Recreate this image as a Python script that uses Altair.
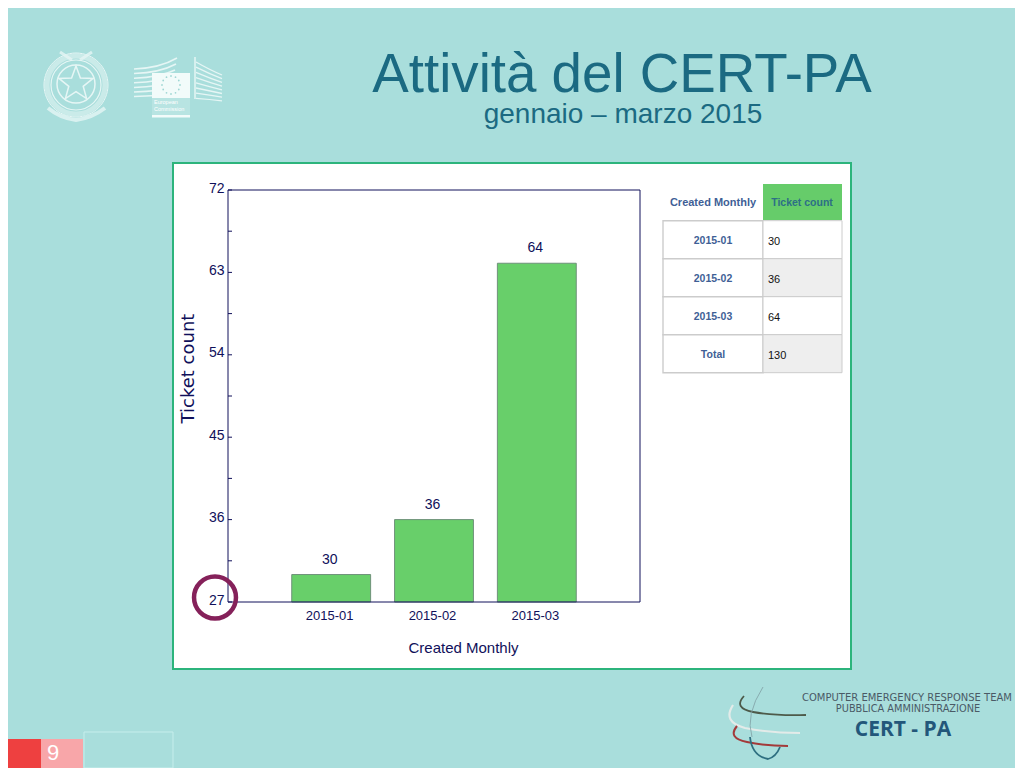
import math
import altair as alt

months = ["2015-01", "2015-02", "2015-03"]
counts = [30, 36, 64]
major_ticks = [27, 36, 45, 54, 63, 72]
all_ticks = [27, 31.5, 36, 40.5, 45, 49.5, 54, 58.5, 63, 67.5, 72]
table_rows = ["2015-01", "2015-02", "2015-03", "Total"]
table_values = ["30", "36", "64", "130"]
table_headers = ["Created Monthly", "Ticket count"]

OX, OY = 228, 190      # page position of the plot's top-left corner
BG = "#a9dedc"
NAVY = "#10105a"
SANS = "Liberation Sans"
ONE = {"values": [{}]}


def px(v):
    return alt.value(v - OX)


def py(v):
    return alt.value(v - OY)


def label(text, x, y, size, color, font=SANS, weight="normal", align="center", baseline="alphabetic", opacity=1):
    return alt.Chart(ONE).mark_text(
        text=text, font=font, fontSize=size, color=color, fontWeight=weight,
        align=align, baseline=baseline, opacity=opacity,
    ).encode(x=px(x), y=py(y))


def box(x0, y0, x1, y1, fill=None, stroke=None, sw=1, opacity=1):
    kw = {"opacity": opacity}
    kw["fill"] = fill if fill else "transparent"
    if stroke:
        kw["stroke"] = stroke
        kw["strokeWidth"] = sw
    return alt.Chart(ONE).mark_rect(**kw).encode(x=px(x0), x2=px(x1), y=py(y0), y2=py(y1))


def deco(path, stroke=None, sw=1, fill=None, opacity=1):
    # a custom symbol is scaled by sqrt(size)/2, so size 4 keeps the path's own units
    kw = {"shape": path, "size": 4, "opacity": opacity, "filled": fill is not None}
    if fill:
        kw["fill"] = fill
    if stroke:
        kw["stroke"] = stroke
        kw["strokeWidth"] = sw
    return alt.Chart(ONE).mark_point(**kw).encode(x=alt.value(-OX), y=alt.value(-OY))


def circle(cx, cy, r):
    return f"M{cx-r},{cy}A{r},{r} 0 1,0 {cx+r},{cy}A{r},{r} 0 1,0 {cx-r},{cy}Z"


def star(cx, cy, R):
    pts = []
    for i in range(10):
        rr = R if i % 2 == 0 else R * 0.42
        a = -math.pi / 2 + i * math.pi / 5
        pts.append(f"{cx + rr*math.cos(a):.1f},{cy + rr*math.sin(a):.1f}")
    return "M" + "L".join(pts) + "Z"


layers = []

# --- slide furniture -------------------------------------------------------
layers.append(label("Attività del CERT-PA", 622, 92, 54.7, "#1b6a82"))
layers.append(label("gennaio – marzo 2015", 623, 123, 28, "#1b6a82"))

# emblem
W = "#e6f6f5"
layers += [
    deco(circle(76, 85, 29), stroke=W, sw=5, opacity=0.55),
    deco(circle(76, 85, 32), stroke=W, sw=1),
    deco(circle(76, 85, 25), stroke=W, sw=1.2),
    deco(circle(76, 84, 19), stroke=W, sw=1.5),
    deco(star(76, 84, 18), stroke=W, sw=1.5, fill=BG),
    deco("M48,108Q60,118 76,120Q92,118 105,108", stroke=W, sw=4, opacity=0.8),
    deco("M60,52L72,60M92,52L80,60", stroke=W, sw=3, opacity=0.8),
]

# European Commission logo
for i in range(7):
    y0 = 69 + i * 4.6
    layers.append(deco(f"M134,{y0}Q160,{y0 - 1} {177 - i},{y0 - 11 + i * 1.4}", stroke=W, sw=1.5))
for i in range(8):
    y0 = 62 + i * 5.2
    layers.append(deco(f"M196,{y0}Q210,{y0 + 8 - i} 222,{y0 + 13 - i * 1.5}", stroke=W, sw=1.3))
layers.append(deco("M195,57L195,99", stroke=W, sw=1.5))
layers.append(box(152, 73, 190, 98, fill="#f2fbfa"))
layers.append(box(152, 98, 190, 115, fill="#ffffff", opacity=0.18))
layers.append(box(152, 115, 190, 117.5, fill="#f2fbfa"))
for i in range(12):
    a = i * math.pi / 6
    layers.append(deco(circle(round(171 + 9 * math.cos(a), 1), round(85 + 9 * math.sin(a), 1), 0.9), fill="#9fd6d4"))
layers.append(label("European", 154, 104, 5.5, "#ffffff", align="left"))
layers.append(label("Commission", 154, 111, 5.5, "#ffffff", align="left"))

# CERT-PA logo
layers += [
    deco("M744,696Q733,708 753,712Q775,716 806,715", stroke="#4d5a4a", sw=1.8),
    deco("M733,705Q722,722 745,728Q770,733 800,733", stroke="#e3ebe9", sw=2.2),
    deco("M737,726Q727,738 747,742Q765,746 788,746", stroke="#a33a3a", sw=2),
    deco("M750,737Q752,756 768,759Q776,757 780,747", stroke="#2e6f80", sw=1.8),
    deco("M763,687Q745,715 752,737", stroke="#7f9ea3", sw=0.8),
]
layers.append(label("COMPUTER EMERGENCY RESPONSE TEAM", 907, 701, 10, "#4a5a66", font="DejaVu Sans"))
layers.append(label("PUBBLICA AMMINISTRAZIONE", 908, 711.5, 9.8, "#4a5a66", font="DejaVu Sans"))
layers.append(label("CERT - PA", 903, 736, 21, "#23577a", font="Open Sans", weight="bold"))

# slide number
layers += [
    box(0, 739, 41, 768, fill="#ee4040"),
    box(41, 739, 83, 768, fill="#f8a6a9"),
    box(84, 732, 173, 768, stroke="#c6eeec", sw=1),
    label("9", 53, 760, 22, "#ffffff"),
]

# --- white panel -----------------------------------------------------------
layers.append(box(173, 163, 851, 669, fill="#ffffff", stroke="#2cb47c", sw=2))

# --- bar chart -------------------------------------------------------------
x_scale = alt.Scale(type="band", domain=months, paddingInner=0.233, paddingOuter=0.62)
y_scale = alt.Scale(domain=[27, 72], nice=False, zero=False)
source = alt.Data(values=[{"month": m, "count": c, "base": major_ticks[0]} for m, c in zip(months, counts)])

bars = alt.Chart(source).mark_bar(fill="#68cf6a", stroke="#6f917a", strokeWidth=1).encode(
    x=alt.X("month:N", scale=x_scale, sort=months, axis=alt.Axis(
        title="Created Monthly", titleFont=SANS, titleFontSize=15, titleFontWeight="normal",
        titleColor=NAVY, titleX=235, titleY=45, titleBaseline="middle", labelFont=SANS,
        labelFontSize=13, labelColor=NAVY, labelAngle=0, labelPadding=7, ticks=False, domain=False,
        labelOffset=-1.5, zindex=1)),
    y=alt.Y("count:Q", scale=y_scale, stack=None, axis=alt.Axis(
        title="Ticket count", titleFont="DejaVu Sans", titleFontSize=18, titleFontWeight="normal",
        titleColor=NAVY, titleX=-40, titleY=178, titleBaseline="middle", values=major_ticks, labelFont=SANS,
        labelFontSize=14, labelColor=NAVY, labelPadding=4, ticks=False, domain=False, grid=False,
        labelOffset=-2, zindex=1)),
    y2="base:Q",
)
layers.append(bars)

layers.append(alt.Chart(source).mark_text(font=SANS, fontSize=14, color=NAVY, dy=-15, dx=-1.5, baseline="middle").encode(
    x=alt.X("month:N", scale=x_scale, sort=months, axis=None),
    y=alt.Y("count:Q", scale=y_scale, stack=None, axis=None),
    text="count:Q",
))

layers.append(box(228, 190, 640, 602, stroke=NAVY, sw=1))
layers.append(alt.Chart(alt.Data(values=[{"t": t} for t in all_ticks])).mark_rule(color=NAVY, strokeWidth=1).encode(
    y=alt.Y("t:Q", scale=y_scale, axis=None), x=alt.value(0), x2=alt.value(4),
))

# circled axis origin
layers.append(alt.Chart(ONE).mark_point(shape="circle", size=1760, stroke="#85215a", strokeWidth=4.5, filled=False, opacity=1)
              .encode(x=px(215), y=py(597.5)))

# --- table -----------------------------------------------------------------
row_scale = alt.Scale(type="band", domain=table_rows, range=[220.7 - OY, 372.7 - OY], paddingInner=0, paddingOuter=0)
table = alt.Data(values=[{"row": r, "value": v, "odd": i % 2} for i, (r, v) in enumerate(zip(table_rows, table_values))])
Yrow = alt.Y("row:N", scale=row_scale, sort=table_rows, axis=None)

layers.append(box(763, 184, 842, 220, fill="#66cc6a"))
layers.append(label(table_headers[0], 713, 206, 11, "#3f5f96", weight="bold"))
layers.append(label(table_headers[1], 802, 206, 10.5, "#2d6f86", weight="bold"))

layers.append(alt.Chart(table).mark_rect(fill="#ffffff", stroke="#cccccc", strokeWidth=1.4).encode(
    y=Yrow, x=px(663), x2=px(763)))
layers.append(alt.Chart(table).mark_rect(stroke="#cccccc", strokeWidth=1).encode(
    y=Yrow, x=px(763), x2=px(842),
    fill=alt.condition("datum.odd == 1", alt.value("#eeeeee"), alt.value("#ffffff"))))
layers.append(alt.Chart(table).mark_text(font=SANS, fontSize=10.5, fontWeight="bold", color="#3f5f96", dy=1).encode(
    y=Yrow, x=px(713), text="row:N"))
layers.append(alt.Chart(table).mark_text(font=SANS, fontSize=11, color="#111111", align="left", dy=2).encode(
    y=Yrow, x=px(768), text="value:N"))

chart = alt.layer(*layers).resolve_scale(x="independent", y="independent").properties(
    width=412, height=412, background=BG,
    padding={"left": OX - 8, "top": OY - 8, "right": 1007 - (OX - 8) - 412, "bottom": 760 - (OY - 8) - 412},
    autosize=alt.AutoSizeParams(type="none"),
).configure_view(stroke=None, fill=None)

chart.save("out.html", embed_options={"renderer": "svg", "actions": False})
